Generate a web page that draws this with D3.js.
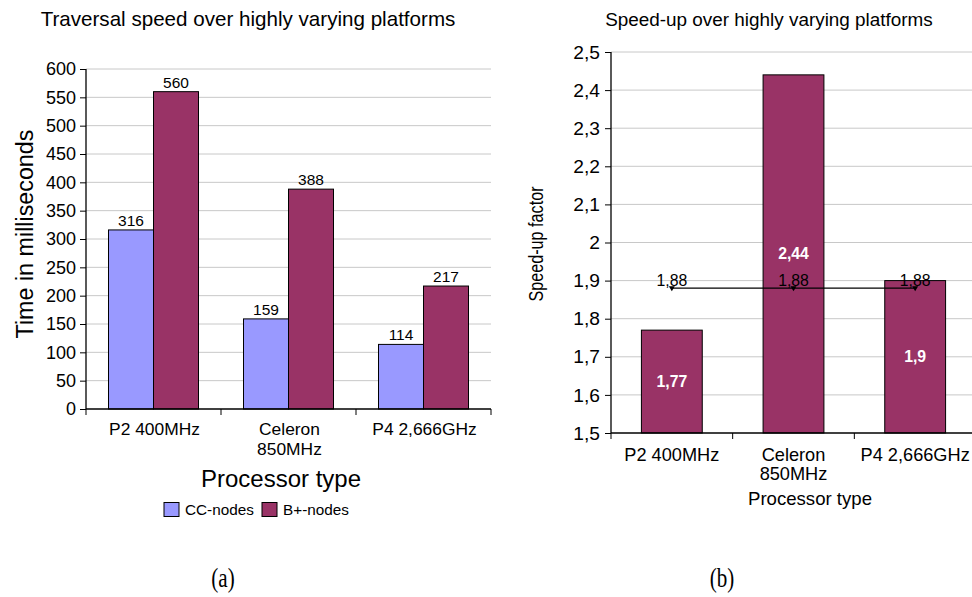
<!DOCTYPE html>
<html>
<head>
<meta charset="utf-8">
<script src="https://cdn.jsdelivr.net/npm/d3@7"></script>
<style>
  html, body { margin: 0; padding: 0; background: #fff; }
  svg { display: block; font-family: "Liberation Sans", Arial, sans-serif; }
</style>
</head>
<body>
<svg id="fig" width="972" height="597"></svg>
<script>
// Processor platforms shared by both panels
const categories = ["P2 400MHz", "Celeron 850MHz", "P4 2,666GHz"];
const categoryLines = [["P2 400MHz"], ["Celeron", "850MHz"], ["P4 2,666GHz"]];

// Panel (a): traversal time in milliseconds
const seriesNames = ["CC-nodes", "B+-nodes"];
const ccNodes = [316, 159, 114];
const bPlusNodes = [560, 388, 217];
const timeTicks = [0, 50, 100, 150, 200, 250, 300, 350, 400, 450, 500, 550, 600];

// Panel (b): speed-up factor and its average
const speedUp = [1.77, 2.44, 1.9];
const speedUpAverage = [1.88, 1.88, 1.88];
const speedTicks = [1.5, 1.6, 1.7, 1.8, 1.9, 2.0, 2.1, 2.2, 2.3, 2.4, 2.5];

const colors = { "CC-nodes": "#9999ff", "B+-nodes": "#993366" };
const gridColor = "#c8c8c8";
const comma = v => String(v).replace(".", ",");
const sans = "Liberation Sans, Arial, sans-serif";

const svg = d3.select("#fig");

/* ---------- Panel (a) ---------- */
{
  const left = 86, right = 491, top = 69, bottom = 409;
  const g = svg.append("g");
  const xCat = d3.scaleBand().domain(categories).range([left, right]);
  const xSub = d3.scaleBand().domain(seriesNames).range([0, xCat.bandwidth() * 2 / 3]);
  const y = d3.scaleLinear().domain([0, 600]).range([bottom, top]);

  g.append("text").attr("x", 248).attr("y", 26).attr("text-anchor", "middle")
    .attr("font-size", 20.6).text("Traversal speed over highly varying platforms");

  // gridlines
  g.selectAll("line.grid").data(timeTicks.filter(t => t > 0)).join("line")
    .attr("x1", left).attr("x2", right).attr("y1", d => y(d)).attr("y2", d => y(d))
    .attr("stroke", gridColor).attr("stroke-width", 1);

  // y axis
  const ya = g.append("g").attr("transform", `translate(${left},0)`)
    .call(d3.axisLeft(y).tickValues(timeTicks).tickSize(6).tickPadding(4));
  ya.select(".domain").attr("stroke", "#000").attr("stroke-width", 1.3).attr("d", `M0,${bottom}V${top}`);
  ya.selectAll(".tick line").attr("stroke", "#000");
  ya.selectAll("text").attr("font-size", 18).attr("font-family", sans).attr("fill", "#000");

  // bars
  const groups = categories.map((c, i) => ({ c, vals: [ccNodes[i], bPlusNodes[i]] }));
  const gg = g.selectAll("g.grp").data(groups).join("g")
    .attr("transform", d => `translate(${xCat(d.c) + xCat.bandwidth() / 6},0)`);
  gg.selectAll("rect").data(d => d.vals.map((v, j) => ({ s: seriesNames[j], v }))).join("rect")
    .attr("x", d => xSub(d.s)).attr("width", xSub.bandwidth())
    .attr("y", d => y(d.v)).attr("height", d => bottom - y(d.v))
    .attr("fill", d => colors[d.s]).attr("stroke", "#000").attr("stroke-width", 1);
  gg.selectAll("text").data(d => d.vals.map((v, j) => ({ s: seriesNames[j], v }))).join("text")
    .attr("x", d => xSub(d.s) + xSub.bandwidth() / 2).attr("y", d => y(d.v) - 4)
    .attr("text-anchor", "middle").attr("font-size", 15.5).text(d => d.v);

  // x axis
  g.append("line").attr("x1", left).attr("x2", right).attr("y1", bottom).attr("y2", bottom)
    .attr("stroke", "#000").attr("stroke-width", 1.3);
  const bounds = [left].concat(categories.map(c => xCat(c) + xCat.bandwidth()));
  g.selectAll("line.xt").data(bounds).join("line")
    .attr("x1", d => d).attr("x2", d => d).attr("y1", bottom).attr("y2", bottom + 6)
    .attr("stroke", "#000");
  categories.forEach((c, i) => {
    const cx = xCat(c) + xCat.bandwidth() / 2 + 1;
    const t = g.append("text").attr("text-anchor", "middle").attr("font-size", 17.4).attr("y", 435);
    categoryLines[i].forEach((ln, k) => t.append("tspan").attr("x", cx).attr("dy", k ? 19.5 : 0).text(ln));
  });

  g.append("text").attr("x", 281).attr("y", 487).attr("text-anchor", "middle")
    .attr("font-size", 24).text("Processor type");
  g.append("text").attr("transform", "translate(33,234) rotate(-90)").attr("text-anchor", "middle")
    .attr("font-size", 23.3).text("Time in milliseconds");

  // legend
  const lg = g.append("g");
  const items = [{ s: "CC-nodes", x: 164 }, { s: "B+-nodes", x: 262 }];
  items.forEach(it => {
    lg.append("rect").attr("x", it.x).attr("y", 502.5).attr("width", 15).attr("height", 14)
      .attr("fill", colors[it.s]).attr("stroke", "#000").attr("stroke-width", 1);
    lg.append("text").attr("x", it.x + 21).attr("y", 515).attr("font-size", 15.3).text(it.s);
  });

  svg.append("text").attr("transform", "translate(223,587) scale(0.78,1)").attr("text-anchor", "middle")
    .attr("font-family", "Liberation Serif, Times New Roman, serif").attr("font-size", 27).text("(a)");
}

/* ---------- Panel (b) ---------- */
{
  const left = 611, right = 976, top = 52, bottom = 433;
  const g = svg.append("g");
  const x = d3.scaleBand().domain(categories).range([left, right]).paddingInner(0.5).paddingOuter(0.25);
  const xCat = d3.scaleBand().domain(categories).range([left, right]);
  const y = d3.scaleLinear().domain([1.5, 2.5]).range([bottom, top]);

  g.append("text").attr("x", 769).attr("y", 26).attr("text-anchor", "middle")
    .attr("font-size", 18.9).text("Speed-up over highly varying platforms");

  g.selectAll("line.grid").data(speedTicks.filter(t => t > 1.5)).join("line")
    .attr("x1", left).attr("x2", right).attr("y1", d => y(d)).attr("y2", d => y(d))
    .attr("stroke", gridColor).attr("stroke-width", 1);

  const ya = g.append("g").attr("transform", `translate(${left},0)`)
    .call(d3.axisLeft(y).tickValues(speedTicks).tickSize(6).tickPadding(5).tickFormat(d => comma(+d.toFixed(1))));
  ya.select(".domain").attr("stroke", "#000").attr("stroke-width", 1.3).attr("d", `M0,${bottom}V${top}`);
  ya.selectAll(".tick line").attr("stroke", "#000");
  ya.selectAll("text").attr("font-size", 19.2).attr("font-family", sans).attr("fill", "#000");

  // bars
  g.selectAll("rect.bar").data(categories.map((c, i) => ({ c, v: speedUp[i] }))).join("rect")
    .attr("x", d => x(d.c)).attr("width", x.bandwidth())
    .attr("y", d => y(d.v)).attr("height", d => bottom - y(d.v))
    .attr("fill", "#993366").attr("stroke", "#000").attr("stroke-width", 1);
  g.selectAll("text.val").data(categories.map((c, i) => ({ c, v: speedUp[i] }))).join("text")
    .attr("x", d => x(d.c) + x.bandwidth() / 2).attr("y", d => (y(d.v) + bottom) / 2 + 5.5)
    .attr("text-anchor", "middle").attr("font-size", 15.8).attr("font-weight", "bold")
    .attr("fill", "#fff").text(d => comma(d.v));

  // average line with markers
  const pts = categories.map((c, i) => [x(c) + x.bandwidth() / 2, y(speedUpAverage[i]), speedUpAverage[i]]);
  g.append("path").attr("d", d3.line()(pts.map(p => [p[0], p[1]])))
    .attr("fill", "none").attr("stroke", "#000").attr("stroke-width", 1.2);
  g.selectAll("path.mk").data(pts).join("path")
    .attr("d", d => `M${d[0] - 3},${d[1] - 2}L${d[0] + 3},${d[1] - 2}L${d[0]},${d[1] + 3}Z`)
    .attr("fill", "#000");
  g.selectAll("text.avg").data(pts).join("text")
    .attr("x", d => d[0]).attr("y", d => d[1] - 2.5).attr("text-anchor", "middle")
    .attr("font-size", 15.8).text(d => comma(d[2]));

  // x axis
  g.append("line").attr("x1", left).attr("x2", right).attr("y1", bottom).attr("y2", bottom)
    .attr("stroke", "#000").attr("stroke-width", 1.3);
  const bounds = [left].concat(categories.map(c => xCat(c) + xCat.bandwidth()));
  g.selectAll("line.xt").data(bounds).join("line")
    .attr("x1", d => d).attr("x2", d => d).attr("y1", bottom).attr("y2", bottom + 6)
    .attr("stroke", "#000");
  categories.forEach((c, i) => {
    const cx = xCat(c) + xCat.bandwidth() / 2;
    const t = g.append("text").attr("text-anchor", "middle").attr("font-size", 18.2).attr("y", 460.5);
    categoryLines[i].forEach((ln, k) => t.append("tspan").attr("x", cx).attr("dy", k ? 19.5 : 0).text(ln));
  });

  g.append("text").attr("x", 810).attr("y", 505).attr("text-anchor", "middle")
    .attr("font-size", 18.6).text("Processor type");
  g.append("text").attr("transform", "translate(543,244) rotate(-90) scale(0.92,1.12)").attr("text-anchor", "middle")
    .attr("font-size", 17.6).text("Speed-up factor");

  svg.append("text").attr("transform", "translate(722,587) scale(0.78,1)").attr("text-anchor", "middle")
    .attr("font-family", "Liberation Serif, Times New Roman, serif").attr("font-size", 27).text("(b)");
}
</script>
</body>
</html>
